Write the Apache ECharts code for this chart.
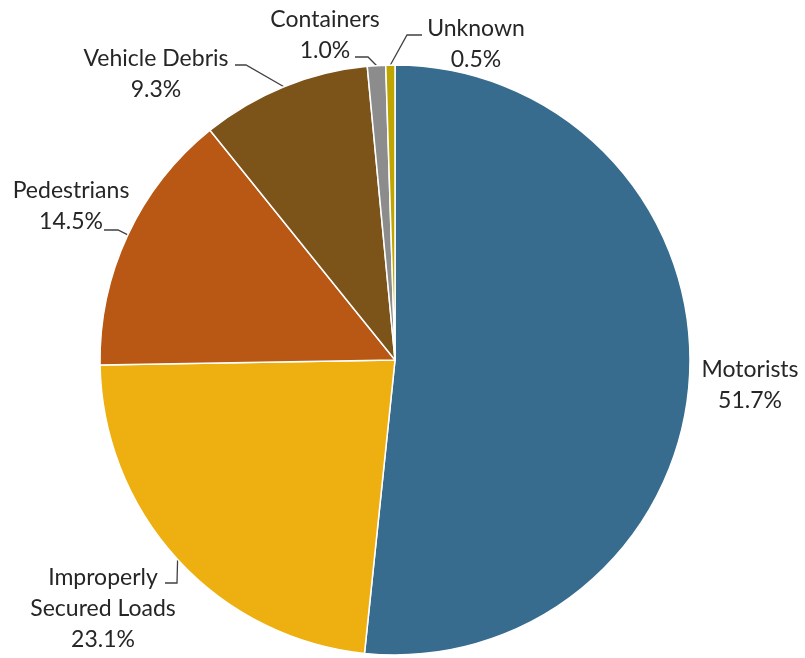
<!DOCTYPE html>
<html>
<head>
<meta charset="utf-8">
<style>
  html, body { margin: 0; padding: 0; background: #ffffff; }
  #chart { width: 805px; height: 658px; }
</style>
<script src="https://cdn.jsdelivr.net/npm/echarts@6/dist/echarts.min.js"></script>
</head>
<body>
<div id="chart"></div>
<script>
// Share of incidents by source (percent)
const categories = ['Motorists', 'Improperly Secured Loads', 'Pedestrians', 'Vehicle Debris', 'Containers', 'Unknown'];
const labelNames = ['Motorists', 'Improperly\nSecured Loads', 'Pedestrians', 'Vehicle Debris', 'Containers', 'Unknown'];
const shares = [51.7, 23.1, 14.5, 9.3, 1.0, 0.5];
const sliceColors = ['#376c8f', '#eeb011', '#b85814', '#7c541a', '#8c8c8c', '#bfa500'];

// Pie geometry
const CX = 395, CY = 360, R = 295;

// Where each label block sits, and the bend/end of its leader line
const labelPlacement = [
  { x: 750, y: 385 },
  { x: 103, y: 609, elbow: [177, 583], end: [165, 583] },
  { x: 71,  y: 206, elbow: [118, 230], end: [104, 230] },
  { x: 156, y: 74,  elbow: [246, 65],  end: [235, 65] },
  { x: 325, y: 35,  elbow: [368, 57],  end: [355, 57] },
  { x: 476, y: 44,  elbow: [407, 35],  end: [422, 35] }
];

// Outer-edge point at the middle of each slice (clockwise from 12 o'clock)
const total = shares.reduce((a, b) => a + b, 0);
function sliceAnchor(i) {
  let before = 0;
  for (let k = 0; k < i; k++) before += shares[k];
  const mid = (before + shares[i] / 2) / total * Math.PI * 2;
  return [CX + R * Math.sin(mid), CY - R * Math.cos(mid)];
}

const chart = echarts.init(document.getElementById('chart'), null, { renderer: 'canvas' });

const seriesData = categories.map((name, i) => ({
  name: name,
  value: shares[i],
  itemStyle: { color: sliceColors[i] },
  labelLine: { show: !!labelPlacement[i].elbow }
}));

chart.setOption({
  animation: false,
  backgroundColor: '#ffffff',
  series: [{
    type: 'pie',
    center: [CX, CY],
    radius: R,
    startAngle: 90,
    clockwise: true,
    data: seriesData,
    itemStyle: { borderColor: '#ffffff', borderWidth: 1.5 },
    label: {
      show: true,
      position: 'outside',
      formatter: (p) => labelNames[p.dataIndex] + '\n' + p.value.toFixed(1) + '%',
      color: '#262626',
      fontFamily: 'Lato',
      fontSize: 23,
      lineHeight: 31,
      align: 'center',
      overflow: 'none'
    },
    labelLine: {
      show: true,
      lineStyle: { color: '#404040', width: 1.3 }
    },
    labelLayout: (params) => {
      const i = params.dataIndex;
      const pl = labelPlacement[i];
      const out = { x: pl.x, y: pl.y, align: 'center', verticalAlign: 'middle' };
      if (pl.elbow) {
        out.labelLinePoints = [sliceAnchor(i), pl.elbow, pl.end];
      }
      return out;
    }
  }]
});
</script>
</body>
</html>
